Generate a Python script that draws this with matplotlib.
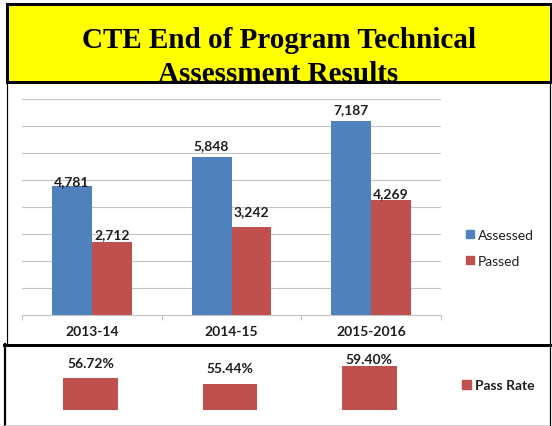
import matplotlib
matplotlib.use('Agg')
import matplotlib.pyplot as plt
from matplotlib.patches import Patch

W, H = 552, 427

# data
years = ['2013-14', '2014-15', '2015-2016']
assessed = [4781, 5848, 7187]
passed = [2712, 3242, 4269]
pass_rate = [56.72, 55.44, 59.40]

# hand-placed label heights above the bar tops (px), as in the original
assessed_nudge = [4.6, 11.7, 11.6]
passed_nudge = [7.7, 16.0, 7.0]
rate_nudge = [15.0, 16.0, 6.7]

BLUE = '#4f81bd'
RED = '#c0504d'
GRID = '#c4c4c4'
INK = '#1e1e1e'
PX = 0.72  # points per pixel at 100 dpi

plt.rcParams['font.family'] = ['Lato', 'DejaVu Sans']


def box(x0, y0, x1, y1):
    """pixel box (top-left origin) -> figure rect"""
    return [x0 / W, 1 - y1 / H, (x1 - x0) / W, (y1 - y0) / H]


fig = plt.figure(figsize=(W / 100, H / 100), dpi=100)
fig.patch.set_facecolor('white')

# panel frames drawn in pixel space
bg = fig.add_axes([0, 0, 1, 1], zorder=0)
bg.set_xlim(0, W)
bg.set_ylim(H, 0)
bg.axis('off')
bg.plot([7, 7], [84, 345], color='black', lw=1.2 * PX)
bg.plot([549.5, 549.5], [84, 427], color='black', lw=1.2 * PX)
bg.plot([5, 5], [345, 427], color='black', lw=2.2 * PX)
bg.plot([4, 552], [345.5, 345.5], color='black', lw=3 * PX)
bg.plot([5, 549], [426, 426], color='#d0d0d0', lw=1 * PX)

# title banner
tax = fig.add_axes(box(6.5, 4.8, 550.5, 83.3), zorder=3)
tax.set_facecolor('#ffff00')
tax.set_xticks([])
tax.set_yticks([])
for sp in tax.spines.values():
    sp.set_linewidth(3 * PX)
    sp.set_color('black')
tax.text(0.5, (83.3 - 48.0) / 78.5, 'CTE End of Program Technical',
         transform=tax.transAxes, ha='center', va='baseline',
         family='Liberation Serif', weight='bold', fontsize=21, clip_on=True)
tax.text(0.5, (83.3 - 81.6) / 78.5, 'Assessment Results',
         transform=tax.transAxes, ha='center', va='baseline',
         family='Liberation Serif', weight='bold', fontsize=21, clip_on=True)

# upper chart: assessed vs passed
ax = fig.add_axes(box(22, 100, 441, 316), zorder=2)
ax.patch.set_alpha(0)
x = range(len(years))
bw = 0.286
ax.bar([i - bw / 2 for i in x], assessed, bw, color=BLUE, zorder=3, label='Assessed')
ax.bar([i + bw / 2 for i in x], passed, bw, color=RED, zorder=3, label='Passed')
for i in x:
    ax.annotate(f'{assessed[i]:,}', (i - bw / 2, assessed[i]),
                xytext=(0, assessed_nudge[i] * PX), textcoords='offset points',
                ha='center', va='center', fontsize=10, weight='bold', color=INK)
    ax.annotate(f'{passed[i]:,}', (i + bw / 2, passed[i]),
                xytext=(0, passed_nudge[i] * PX), textcoords='offset points',
                ha='center', va='center', fontsize=10, weight='bold', color=INK)
ax.set_xlim(-0.5, 2.5)
ax.set_ylim(0, 8000)
ax.set_yticks(range(0, 8001, 1000))
ax.yaxis.grid(True, color=GRID, lw=1.1 * PX, zorder=0)
ax.tick_params(axis='y', length=0, labelleft=False)
for s in ['left', 'right', 'top']:
    ax.spines[s].set_visible(False)
ax.spines['bottom'].set_color(GRID)
ax.spines['bottom'].set_linewidth(1.1 * PX)
ax.set_xticks([-0.5, 0.5, 1.5, 2.5])
ax.set_xticklabels([])
ax.tick_params(axis='x', which='major', length=5 * PX, width=1.1 * PX, color=GRID)
ax.set_xticks(list(x), minor=True)
ax.set_xticklabels(years, minor=True, fontsize=10, weight='bold', color=INK)
ax.tick_params(axis='x', which='minor', length=0, pad=10 * PX)
ax.legend(handles=[Patch(color=BLUE, label='Assessed'), Patch(color=RED, label='Passed')],
          loc='center left', bbox_to_anchor=(466 / W, 1 - 249 / H),
          bbox_transform=fig.transFigure, frameon=False, fontsize=10,
          handlelength=0.55, handleheight=0.55, handletextpad=0.3,
          labelspacing=1.0, borderpad=0, borderaxespad=0, labelcolor=INK)

# lower chart: pass rate
ax2 = fig.add_axes(box(21, 354.5, 439, 410.7), zorder=2)
ax2.patch.set_alpha(0)
ax2.bar(list(x), pass_rate, 0.394, color=RED)
for i in x:
    ax2.annotate(f'{pass_rate[i]:.2f}%', (i, pass_rate[i]),
                 xytext=(0, rate_nudge[i] * PX), textcoords='offset points',
                 ha='center', va='center', fontsize=10, weight='bold', color=INK,
                 annotation_clip=False)
ax2.set_xlim(-0.5, 2.5)
ax2.set_ylim(50, 62)
ax2.axis('off')
leg2 = ax2.legend(handles=[Patch(color=RED, label='Pass Rate')],
                  loc='center left', bbox_to_anchor=(461.7 / W, 1 - 386.5 / H),
                  bbox_transform=fig.transFigure, frameon=False, fontsize=10,
                  handlelength=0.65, handleheight=0.65, handletextpad=0.3,
                  borderpad=0, borderaxespad=0, labelcolor=INK)
for t in leg2.get_texts():
    t.set_weight('bold')

fig.savefig('out.png', dpi=100)
